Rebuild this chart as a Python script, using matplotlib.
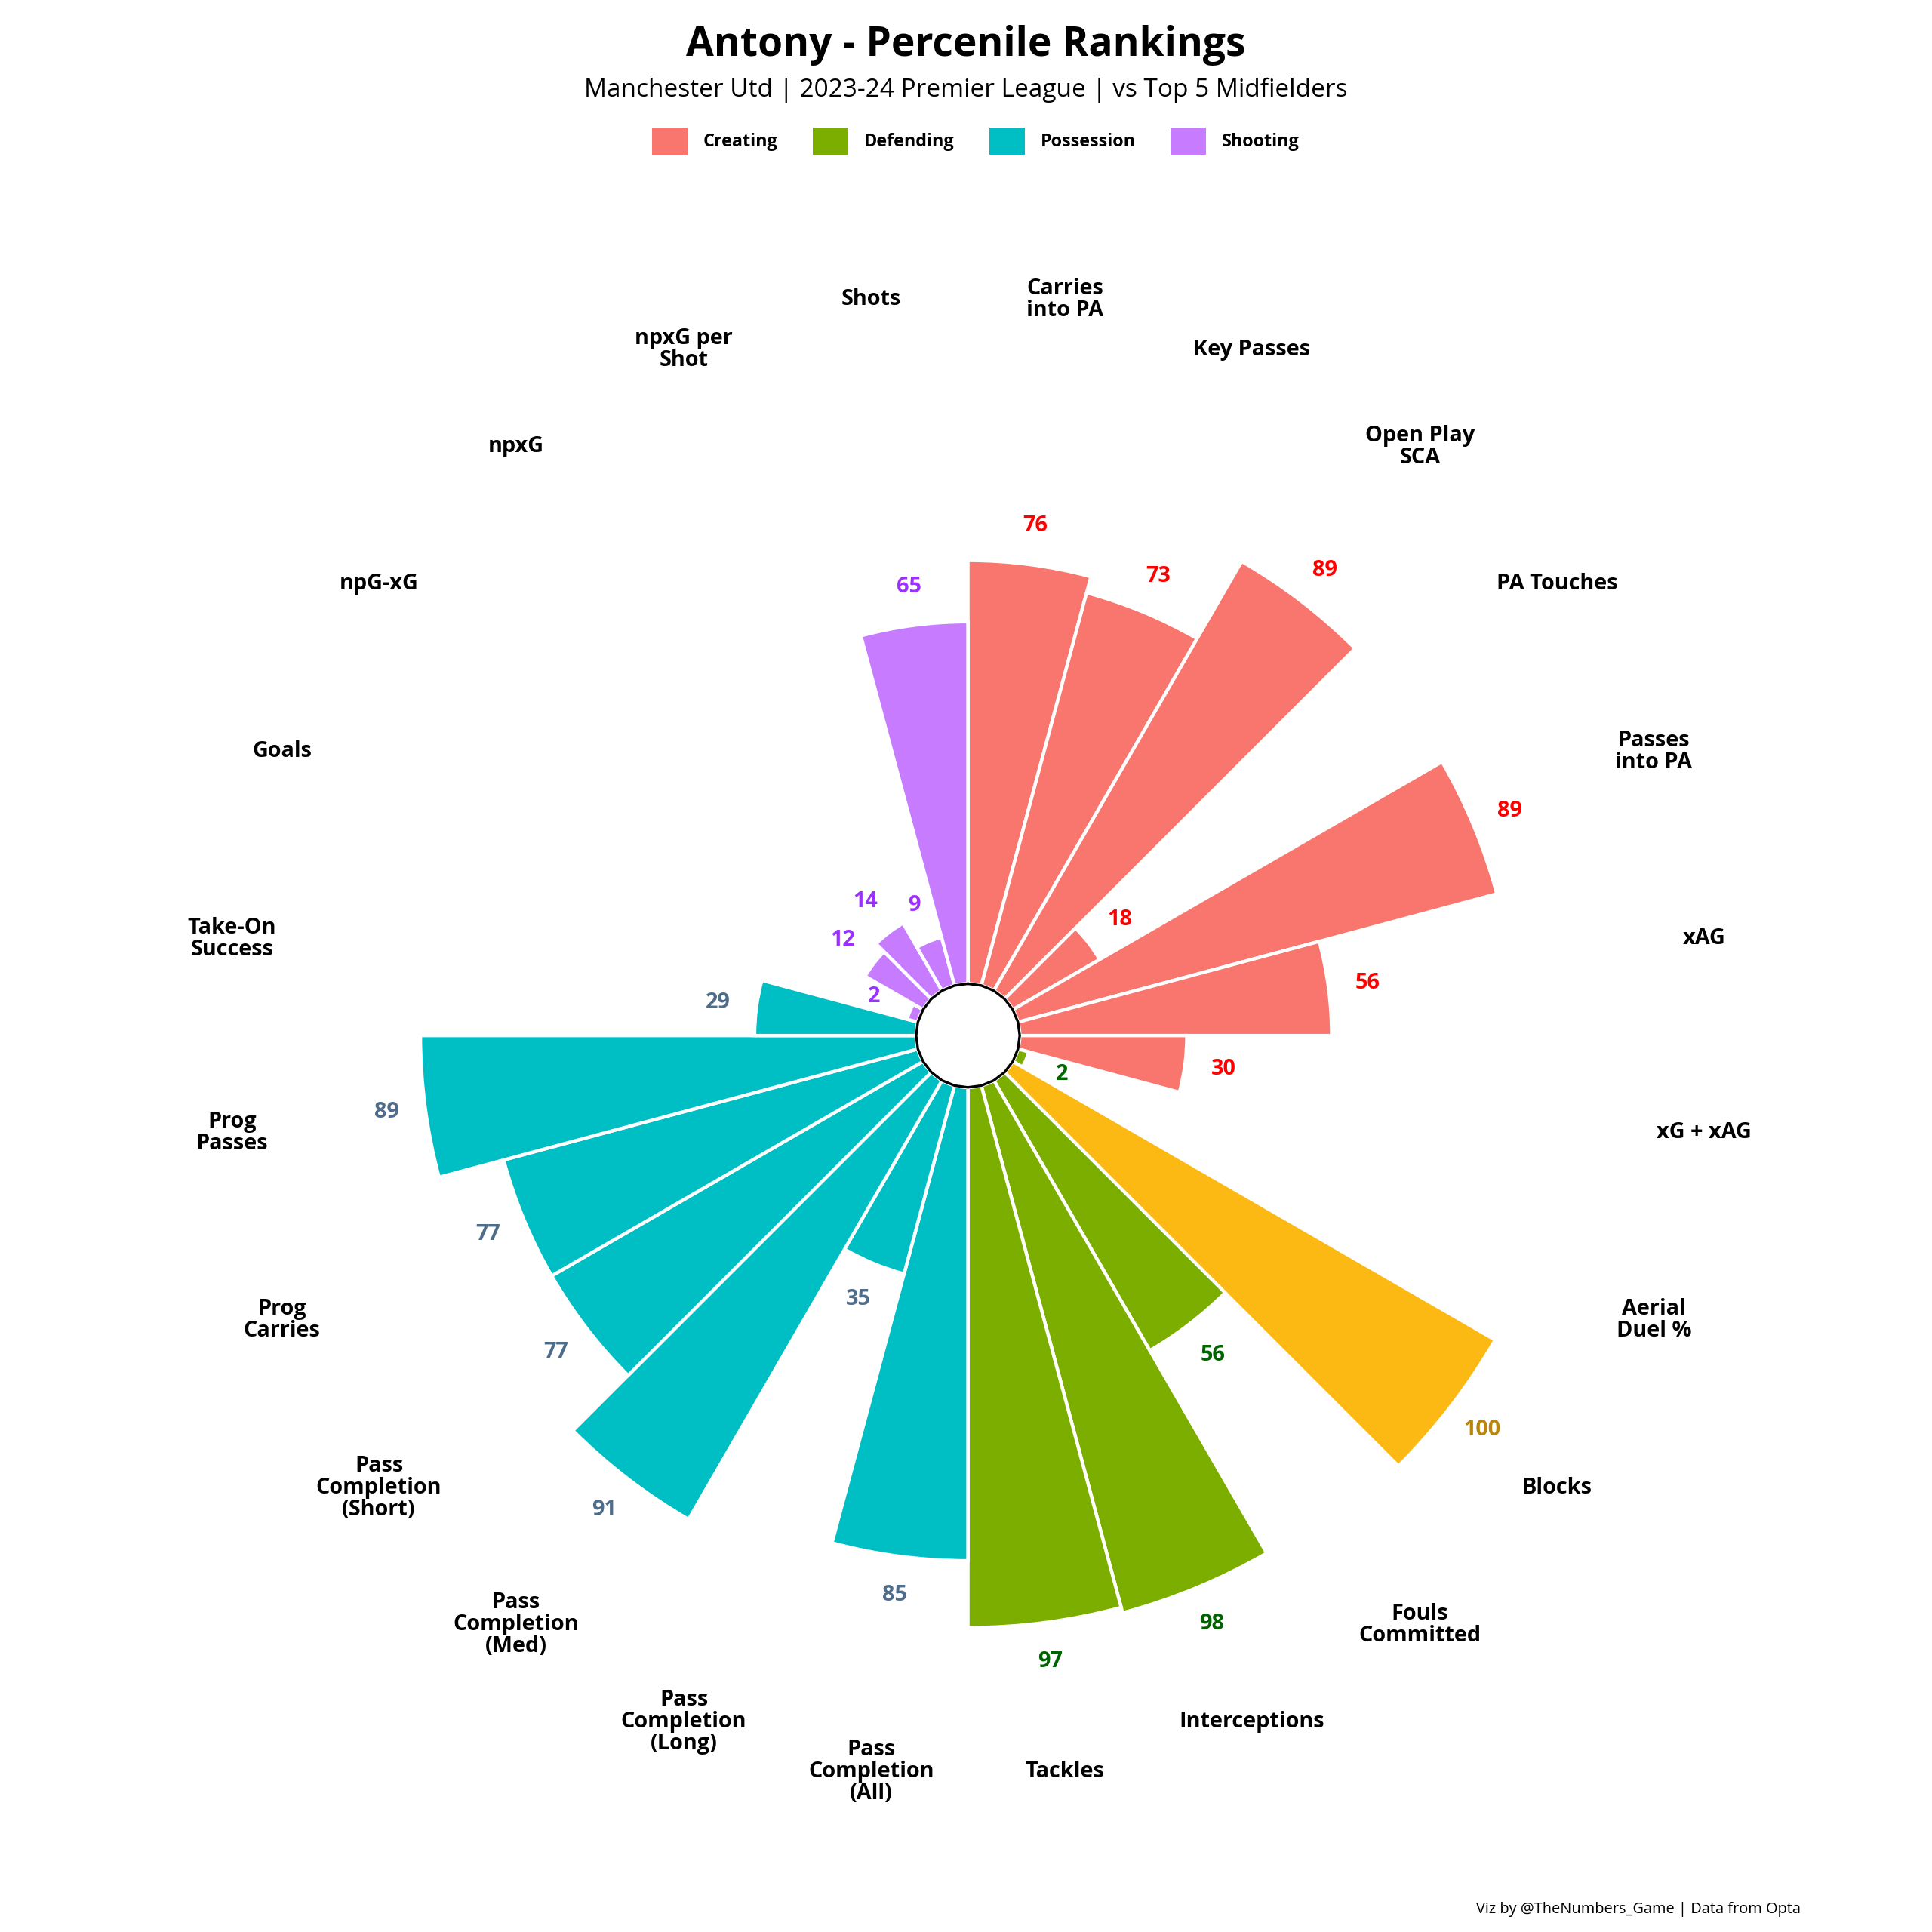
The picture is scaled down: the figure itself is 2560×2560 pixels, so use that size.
import numpy as np
import matplotlib.pyplot as plt
from matplotlib.patches import Patch

plt.rcParams['font.family'] = ['Open Sans', 'DejaVu Sans']

labels = ["Carries\ninto PA", "Key Passes", "Open Play\nSCA", "PA Touches", "Passes\ninto PA", "xAG", "xG + xAG",
          "Aerial\nDuel %", "Blocks", "Fouls\nCommitted", "Interceptions", "Tackles",
          "Pass\nCompletion\n(All)", "Pass\nCompletion\n(Long)", "Pass\nCompletion\n(Med)", "Pass\nCompletion\n(Short)",
          "Prog\nCarries", "Prog\nPasses", "Take-On\nSuccess",
          "Goals", "npG-xG", "npxG", "npxG per\nShot", "Shots"]
values = [76, 73, 89, 18, 89, 56, 30,
          2, 100, 56, 98, 97,
          85, 35, 91, 77, 77, 89, 29,
          2, 12, 14, 9, 65]
groups = ["Creating"] * 7 + ["Defending"] * 5 + ["Possession"] * 7 + ["Shooting"] * 5

bar_colors = {"Creating": "#F8766D", "Defending": "#7CAE00", "Possession": "#00BFC4", "Shooting": "#C77CFF"}
text_colors = {"Creating": "#FF0000", "Defending": "#006400", "Possession": "#4F6D8A", "Shooting": "#9B30FF"}

n = len(values)
width = 2 * np.pi / n
theta = np.arange(n) * width + width / 2

fig = plt.figure(figsize=(16, 16), dpi=160)
ax = fig.add_axes([0.085, 0.048, 0.832, 0.832], projection='polar')
ax.set_theta_zero_location('N')
ax.set_theta_direction(-1)
ax.set_ylim(-9.3, 135)

cols = [bar_colors[g] for g in groups]
tcols = [text_colors[g] for g in groups]
for i, v in enumerate(values):
    if v == 100:
        cols[i] = "#FDB913"
        tcols[i] = "#B8860B"

ax.bar(theta, values, width=width, bottom=0, color=cols, edgecolor='white', linewidth=2)

# centre ring (polygon, one vertex per bar edge)
ring = np.append(np.arange(n) * width, 0)
ax.fill(ring, np.zeros_like(ring), color='white', zorder=3)
ax.plot(ring, np.zeros_like(ring), color='black', lw=1.5, zorder=4)

for t, v, c in zip(theta, values, tcols):
    ax.text(t, v + 7, str(v), color=c, fontsize=13, fontweight='bold', ha='center', va='center')
for t, lab in zip(theta, labels):
    ax.text(t, 124, lab, fontsize=13, fontweight='bold', ha='center', va='center', linespacing=1.0)

ax.set_xticks([])
ax.set_yticks([])
ax.spines['polar'].set_visible(False)
ax.grid(False)

fig.text(0.5, 0.987, "Antony - Percenile Rankings", ha='center', va='top', fontsize=24, fontweight='bold')
fig.text(0.5, 0.96, "Manchester Utd | 2023-24 Premier League | vs Top 5 Midfielders", ha='center', va='top', fontsize=15)
handles = [Patch(facecolor=bar_colors[g], label=g) for g in bar_colors]
leg = fig.legend(handles=handles, loc='center', bbox_to_anchor=(0.505, 0.927), ncol=4, frameon=False,
                 prop={'weight': 'bold', 'size': 10.5}, handlelength=2.0, handleheight=2.0,
                 columnspacing=2.0, handletextpad=0.9)
fig.text(0.932, 0.008, "Viz by @TheNumbers_Game | Data from Opta", ha='right', va='bottom', fontsize=9)

fig.savefig("out.png", dpi=160, facecolor='white')
